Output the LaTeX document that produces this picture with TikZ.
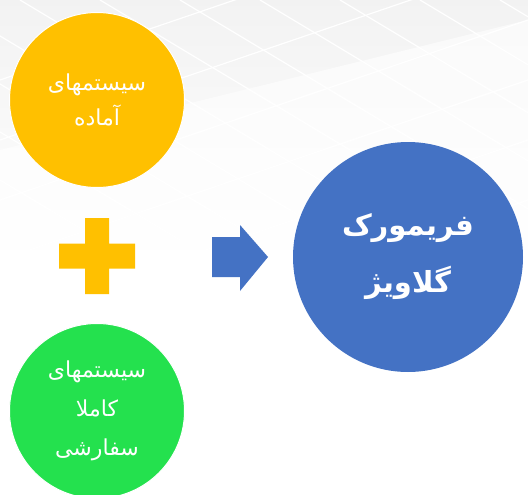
\documentclass[tikz,border=0pt]{standalone}
\usepackage{fontspec}
\newfontfamily\arabicfont[Script=Arabic]{DejaVu Sans}
\TeXXeTstate=1
\definecolor{cyellow}{RGB}{255,192,0}
\definecolor{cgreen}{RGB}{36,225,78}
\definecolor{cblue}{RGB}{68,114,196}
\begin{document}
\begin{tikzpicture}[x=1pt,y=-1pt,
  bubble/.style={circle,draw=white,line width=1pt,inner sep=0pt,text=white,align=center,font=\arabicfont\fontsize{22}{35}\selectfont},
  bigbubble/.style={circle,inner sep=0pt,text=white,align=center,font=\arabicfont\bfseries\fontsize{29}{57}\selectfont},
  tile/.style={white,line width=1.2pt}]
\useasboundingbox (0,0) rectangle (528,495);
% background
\shade[top color=black!5,bottom color=white] (0,0) rectangle (528,260);
\foreach \i in {-300,-220,...,500} {
  \draw[tile] (\i,0) -- ++(400,240);
}
\foreach \j in {-100,-40,...,300} {
  \draw[tile] (0,\j+180) -- (528,\j);
}
\fill[white,opacity=0.6] (0,150) -- (528,20) -- (528,495) -- (0,495) -- cycle;
% circles
\node[bubble,fill=cyellow,minimum size=175pt] (ready) at (97,100)
  {\beginR سیستمهای\endR\\ \beginR آماده\endR};
\node[bubble,fill=cgreen,minimum size=175pt,font=\arabicfont\fontsize{22}{39}\selectfont] (custom) at (97,411)
  {\beginR سیستمهای\endR\\ \beginR کاملا\endR\\ \beginR سفارشی\endR};
\node[bigbubble,fill=cblue,minimum size=230pt] (fw) at (408,257)
  {\beginR فریمورک\endR\\ \beginR گلاویژ\endR};
% plus
\coordinate (plus) at (97,256);
\fill[cyellow]
  ([xshift=-12pt,yshift=-38pt]plus) rectangle ([xshift=12pt,yshift=38pt]plus)
  ([xshift=-38pt,yshift=-12.5pt]plus) rectangle ([xshift=38pt,yshift=12.5pt]plus);
% arrow
\coordinate (arr) at (240,257);
\fill[cblue]
  ([xshift=-28pt,yshift=-20pt]arr) -- ([yshift=-20pt]arr) -- ([yshift=-34pt]arr)
  -- ([xshift=28pt]arr) -- ([yshift=32pt]arr) -- ([yshift=20pt]arr)
  -- ([xshift=-28pt,yshift=20pt]arr) -- cycle;
\end{tikzpicture}
\end{document}
